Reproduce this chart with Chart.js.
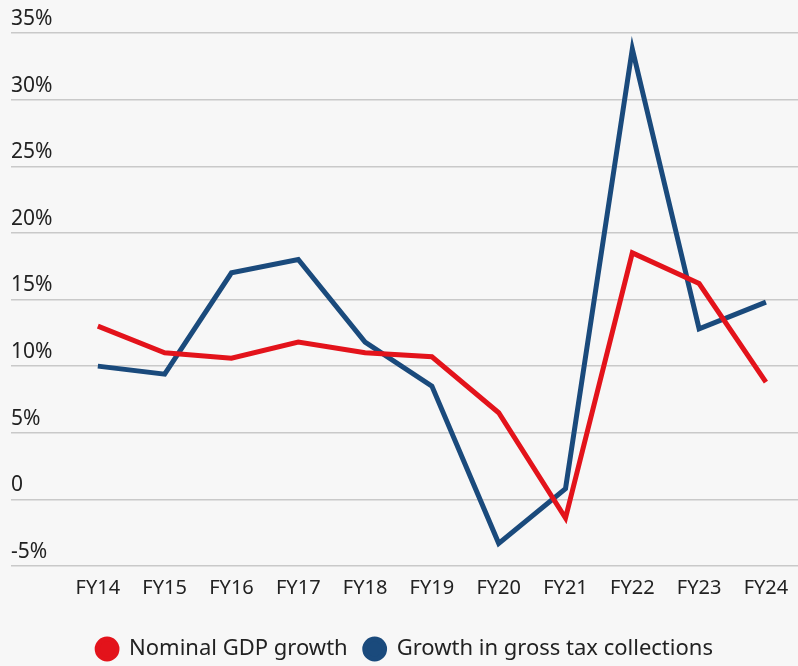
<!DOCTYPE html>
<html>
<head>
<meta charset="utf-8">
<script src="https://cdn.jsdelivr.net/npm/chart.js@4"></script>
<style>
  html, body { margin: 0; padding: 0; background: #f7f7f7; }
  #wrap { width: 798px; height: 666px; }
</style>
</head>
<body>
<div id="wrap"><canvas id="growthChart"></canvas></div>
<script>
// fiscal years on the x axis
var years = ['FY14', 'FY15', 'FY16', 'FY17', 'FY18', 'FY19', 'FY20', 'FY21', 'FY22', 'FY23', 'FY24'];
// annual growth, percent
var nominalGdp = [13.0, 11.0, 10.6, 11.8, 11.0, 10.7, 6.5, -1.4, 18.5, 16.2, 8.8];
var grossTax = [10.0, 9.4, 17.0, 18.0, 11.8, 8.5, -3.3, 0.8, 33.8, 12.8, 14.8];
var yTicks = [-5, 0, 5, 10, 15, 20, 25, 30, 35];

function toPoints(values) {
    return values.map(function (v, i) { return { x: i, y: v }; });
}

Chart.defaults.font.family = "'Noto Sans', sans-serif";
Chart.defaults.font.size = 20;
Chart.defaults.color = '#222';

var chart = new Chart(document.getElementById('growthChart'), {
    type: 'line',
    data: {
        datasets: [
            {
                label: 'Nominal GDP growth',
                data: toPoints(nominalGdp),
                borderColor: '#e3131b',
                backgroundColor: '#e3131b',
                borderWidth: 5,
                pointRadius: 0,
                tension: 0
            },
            {
                label: 'Growth in gross tax collections',
                data: toPoints(grossTax),
                borderColor: '#1a4a7c',
                backgroundColor: '#1a4a7c',
                borderWidth: 5,
                pointRadius: 0,
                tension: 0
            }
        ]
    },
    options: {
        responsive: true,
        maintainAspectRatio: false,
        animation: false,
        layout: { padding: { top: 33, left: 11, right: 0, bottom: -4 } },
        plugins: {
            tooltip: { enabled: false },
            legend: {
                position: 'bottom',
                labels: {
                    usePointStyle: true,
                    pointStyle: 'circle',
                    boxHeight: 14,
                    padding: 16,
                    color: '#222',
                    font: { size: 22 }
                }
            }
        },
        scales: {
            x: {
                type: 'linear',
                min: -1.3,
                max: 10.48,
                grid: { display: false },
                border: { display: false },
                ticks: {
                    stepSize: 1,
                    includeBounds: false,
                    autoSkip: false,
                    maxRotation: 0,
                    padding: 2,
                    callback: function (v) {
                        return Number.isInteger(v) && years[v] ? years[v] : null;
                    }
                },
                afterFit: function (axis) {
                    // extra room between the year labels and the legend
                    axis.height += 20;
                }
            },
            y: {
                min: -5,
                max: 35,
                afterBuildTicks: function (axis) {
                    axis.ticks = yTicks.map(function (v) { return { value: v }; });
                },
                grid: { color: '#c9c9c9', lineWidth: 1.5, drawTicks: false },
                border: { display: false },
                ticks: {
                    mirror: true,
                    padding: 0,
                    labelOffset: -14,
                    font: { size: 21 },
                    callback: function (v) { return v === 0 ? '0' : v + '%'; }
                }
            }
        }
    }
});
</script>
</body>
</html>
